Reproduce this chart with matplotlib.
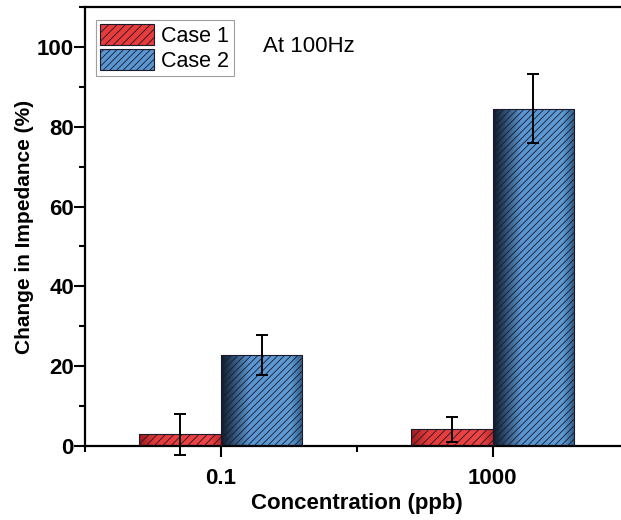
import numpy as np
import matplotlib
matplotlib.use("Agg")
import matplotlib.pyplot as plt
from matplotlib.colors import LinearSegmentedColormap
from matplotlib.patches import Patch
from matplotlib.ticker import MultipleLocator
from matplotlib.transforms import IdentityTransform

plt.rcParams['font.family'] = ['Liberation Sans', 'DejaVu Sans']
plt.rcParams['hatch.linewidth'] = 0.6

categories = ['0.1', '1000']
case1 = [2.9, 4.2]
case1_err = [5.1, 3.1]
case2 = [22.8, 84.5]
case2_err = [4.9, 8.7]

red_cmap = LinearSegmentedColormap.from_list(
    "red", [(0, "#9c1a1a"), (0.2, "#e53a3a"), (0.85, "#f04545"), (1, "#c42a2a")])
blue_cmap = LinearSegmentedColormap.from_list(
    "blue", [(0, "#0e1b2a"), (0.35, "#5a96d2"), (0.85, "#5f9cd6"), (1, "#2f5b87")])

fig = plt.figure(figsize=(6.21, 5.2), dpi=100)
ax = fig.add_axes([85 / 621, 1 - 446 / 520, 543.5 / 621, 439 / 520])

x = np.arange(1, len(categories) + 1)
w = 0.3

grad = np.linspace(0, 1, 256).reshape(1, -1)

def gradient_bars(xpos, vals, errs, cmap, hatch, label):
    bars = ax.bar(xpos, vals, w, facecolor='none', edgecolor='#1a1a2a',
                  hatch=hatch, linewidth=0.8, zorder=3, label=label)
    for b in bars:
        bx, by = b.get_x(), b.get_y()
        bw, bh = b.get_width(), b.get_height()
        im = ax.imshow(grad, cmap=cmap, extent=[bx, bx + bw, by, by + bh],
                       aspect='auto', zorder=2, interpolation='bilinear')
        im.set_clip_path(b)
    ax.errorbar(xpos, vals, yerr=errs, fmt='none', ecolor='black',
                elinewidth=1.4, capsize=4, capthick=1.4, zorder=4, clip_on=False)
    return bars

gradient_bars(x - w / 2, case1, case1_err, red_cmap, '////', 'Case 1')
gradient_bars(x + w / 2, case2, case2_err, blue_cmap, '/////', 'Case 2')

ax.set_xlim(0.5, 2.5)
ax.set_ylim(0, 110)
ax.set_xticks(x)
ax.set_xticklabels(categories)
ax.set_xticks([0.5, 1.5, 2.5], minor=True)
ax.yaxis.set_major_locator(MultipleLocator(20))
ax.yaxis.set_minor_locator(MultipleLocator(10))

for s in ax.spines.values():
    s.set_linewidth(1.6)
ax.tick_params(which='major', direction='out', length=8, width=1.5,
               labelsize=16)
ax.tick_params(axis='y', which='major', pad=0)
ax.tick_params(axis='x', which='major', pad=8)
ax.tick_params(which='minor', direction='out', length=4, width=1.5)
ax.tick_params(top=False, right=False, which='both')
for lbl in ax.get_xticklabels() + ax.get_yticklabels():
    lbl.set_fontweight('bold')

ax.set_xlabel('Concentration (ppb)', fontsize=16, fontweight='bold', labelpad=3)
ax.set_ylabel('Change in Impedance (%)', fontsize=15, fontweight='bold', labelpad=2)

handles = [Patch(facecolor='#e83b3b', edgecolor='#1a1a2a', hatch='////', lw=0.8),
           Patch(facecolor='#5a96d2', edgecolor='#1a1a2a', hatch='/////', lw=0.8)]
leg = ax.legend(handles, ['Case 1', 'Case 2'], loc='upper left',
                bbox_to_anchor=(0.012, 0.98), fontsize=15.5, frameon=True,
                fancybox=False, edgecolor='#888888', handlelength=2.5,
                handleheight=1.1, handletextpad=0.35, borderpad=0.2,
                labelspacing=0.1, borderaxespad=0.2)
leg.get_frame().set_linewidth(0.8)

ax.text(263, 520 - 46, 'At 100Hz', fontsize=16, va='center', ha='left',
        transform=IdentityTransform())

fig.savefig('out.png', dpi=100)
